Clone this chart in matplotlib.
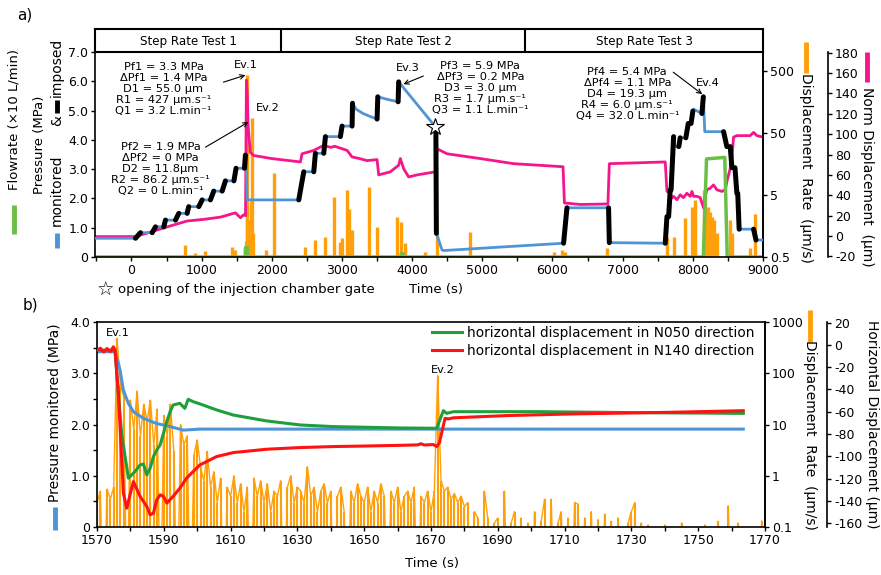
import numpy as np
import matplotlib.pyplot as plt
from matplotlib.lines import Line2D
from matplotlib.ticker import FixedLocator, FuncFormatter, MultipleLocator, NullLocator

plt.rcParams['font.family'] = 'DejaVu Sans'
plt.rcParams['axes.unicode_minus'] = False

W, H = 881, 575

BLUE = '#4f95d5'
PINK = '#f5158c'
ORANGE = '#ffa00a'
LIME = '#6abf45'
GREEN = '#1f9e3c'
RED = '#ff1212'

# ---------------- a) step rate tests ----------------
test_names = ['Step Rate Test 1', 'Step Rate Test 2', 'Step Rate Test 3']
test_bounds = [-520, 2137, 5613, 9000]

# monitored pressure (MPa)
p_time = [-520, 57, 128, 295, 342, 460, 484, 627, 674, 793, 816, 959, 1007, 1125, 1172,
          1292, 1339, 1460, 1490, 1610, 1624, 1632, 1648,
          2384, 2455, 2598, 2621, 2740, 2764, 2977, 3001, 3144, 3150, 3200, 3300, 3400,
          3500, 3510, 3650, 3800, 3808, 4330, 4345, 4426, 4450, 6158, 6206, 6799, 6810,
          7607, 7631, 7655, 7678, 7690, 7726, 7746, 7800, 7820, 7900, 7935, 7975, 8000,
          8010, 8129, 8150, 8170, 8438, 8485, 8533, 8557, 8600, 8628, 8640, 8660, 8866,
          8900, 9000]
p_monitored = [0.64, 0.64, 0.83, 0.83, 1.03, 1.03, 1.26, 1.26, 1.49, 1.49, 1.72, 1.72, 1.95, 1.95, 2.25,
               2.25, 2.60, 2.60, 3.03, 3.03, 3.48, 3.48, 1.95,
               1.95, 2.91, 2.91, 3.54, 3.54, 4.11, 4.11, 4.47, 4.47, 5.25, 5.05, 4.90, 4.80,
               4.71, 5.47, 5.38, 5.30, 5.98, 4.45, 0.81, 0.24, 0.22, 0.47, 1.68, 1.68, 0.49,
               0.47, 1.38, 1.38, 2.29, 2.29, 4.11, 3.77, 3.77, 4.07, 4.07, 4.56, 4.56, 4.98,
               5.05, 4.90, 5.47, 4.28, 4.28, 3.77, 3.77, 3.05, 3.05, 2.17, 2.17, 0.95, 0.95,
               0.58, 0.58]

# imposed pressure ramps: (t start, p start, t end, p end)
ramps = [(57, 0.64, 128, 0.83), (295, 0.83, 342, 1.03), (460, 1.03, 484, 1.26),
         (627, 1.26, 674, 1.49), (793, 1.49, 816, 1.72), (959, 1.72, 1007, 1.95),
         (1125, 1.95, 1172, 2.25), (1292, 2.25, 1339, 2.60), (1460, 2.60, 1490, 3.03),
         (1610, 3.03, 1624, 3.48),
         (2384, 1.95, 2455, 2.91), (2598, 2.91, 2621, 3.54), (2740, 3.54, 2764, 4.11),
         (2977, 4.11, 3001, 4.47), (3144, 4.47, 3150, 5.25), (3500, 4.71, 3510, 5.47),
         (3800, 5.30, 3808, 5.98), (4338, 4.45, 4345, 0.81),
         (6158, 0.47, 6206, 1.68), (6799, 1.68, 6810, 0.49),
         (7607, 0.47, 7631, 1.38), (7655, 1.38, 7678, 2.29), (7690, 2.29, 7726, 4.11),
         (7800, 3.77, 7820, 4.07), (7900, 4.07, 7935, 4.56), (7975, 4.56, 8000, 4.98),
         (8129, 4.90, 8150, 5.47), (8438, 4.28, 8485, 3.77), (8533, 3.77, 8557, 3.05),
         (8600, 3.05, 8628, 2.17), (8640, 2.17, 8660, 0.95), (8866, 0.95, 8900, 0.58)]

# flowrate (x10 L/min)
flow_time = [-520, 1620, 1625, 1650, 1655, 3840, 3845, 3870, 3875, 8150, 8195, 8455, 8490, 9000]
flow = [0, 0, 0.32, 0.32, 0, 0, 0.11, 0.11, 0, 0, 3.35, 3.40, 0, 0]

# normal displacement (um)
norm_time = [-520, 57, 318, 556, 793, 1030, 1268, 1481, 1553, 1600, 1625, 1638, 1650, 1660,
             1671, 1695, 1742, 2000, 2407, 2431, 2598, 2740, 2835, 2900, 3073, 3144, 3250,
             3357, 3500, 3523, 3689, 3808, 3832, 3879, 3950, 4069, 4330, 4355, 4402, 4497,
             4972, 5447, 6150, 6170, 6396, 6790, 6810, 7607, 7631, 7655, 7678, 7726, 7773,
             7821, 7867, 7915, 7963, 7987, 8010, 8058, 8105, 8153, 8177, 8200, 8248, 8295,
             8343, 8414, 8462, 8485, 8533, 8557, 8580, 8628, 8818, 8866, 8913, 9000]
norm_disp = [-0.5, -0.5, 5, 10, 14.8, 16.4, 18.6, 22.8, 18, 21, 20, 153, 140, 110,
             100, 82, 79, 76, 72.7, 80.7, 84, 89, 87, 88, 84, 77.6, 76,
             74, 75, 60, 63, 69.5, 76, 66, 58, 60, 63, 85.6, 84, 80.7,
             76, 71, 68, 32.5, 31, 31.5, 71, 72.7, 43.8, 45, 35.7, 39, 35.7,
             40.5, 37.7, 42, 39, 43.8, 39, 39, 37.7, 27.6, 39, 45.4, 47, 50.2,
             45.4, 43.8, 45.4, 53.4, 66.3, 76, 97, 98.5, 98.5, 101.7, 98.5, 97]

# displacement rate peaks (um/s)
rate_time = [759, 912, 1054, 1434, 1481, 1625, 1640, 1652, 1665, 1690, 1705, 1720, 1735,
             1919, 2027, 2479, 2621, 2764, 2882, 2977, 3001, 3073, 3095, 3144, 3380, 3500,
             3785, 3842, 3903, 4188, 4355, 4829, 6016, 6135, 6182, 6776, 7631, 7726, 7892,
             7987, 8034, 8153, 8180, 8210, 8248, 8275, 8295, 8343, 8533, 8560, 8818, 8889]
rate = [0.78, 0.57, 0.63, 0.72, 0.66, 0.9, 427, 3.0, 1.5, 2.0, 4.0, 86.2, 1.2,
        0.65, 11.2, 0.73, 0.94, 1.06, 4.7, 0.88, 1.0, 6.0, 3.0, 1.36, 6.8, 1.54,
        2.23, 1.85, 0.85, 0.6, 1.2, 1.28, 0.6, 0.65, 0.6, 0.7, 1.06, 1.06, 2.1,
        3.2, 4.15, 6.0, 5.0, 3.2, 2.7, 2.2, 2.0, 1.2, 2.0, 1.2, 0.7, 2.5]

gate_time, gate_p = 4330, 4.45

blocks = [
    (456, 5.73, 'Pf1 = 3.3 MPa\nΔPf1 = 1.4 MPa\nD1 = 55.0 µm\nR1 = 427 µm.s⁻¹\nQ1 = 3.2 L.min⁻¹'),
    (413, 3.00, 'Pf2 = 1.9 MPa\nΔPf2 = 0 MPa\nD2 = 11.8µm\nR2 = 86.2 µm.s⁻¹\nQ2 = 0 L.min⁻¹'),
    (4972, 5.77, 'Pf3 = 5.9 MPa\nΔPf3 = 0.2 MPa\nD3 = 3.0 µm\nR3 = 1.7 µm.s⁻¹\nQ3 = 1.1 L.min⁻¹'),
    (7066, 5.56, 'Pf4 = 5.4 MPa\nΔPf4 = 1.1 MPa\nD4 = 19.3 µm\nR4 = 6.0 µm.s⁻¹\nQ4 = 32.0 L.min⁻¹'),
]
# (label, label x, label y, arrow tail, arrow head)
events_a = [
    ('Ev.1', 1624, 6.55, (1311, 5.97), (1624, 6.21)),
    ('Ev.2', 1937, 5.09, (1054, 3.75), (1667, 4.61)),
    ('Ev.3', 3932, 6.45, (4160, 6.18), (3875, 5.90)),
    ('Ev.4', 8219, 5.94, (7721, 6.31), (8134, 5.56)),
]

# ---------------- b) zoom on Ev.1 / Ev.2 ----------------
pb_time = [1570, 1575.4, 1576.4, 1576.9, 1577.9, 1579.4, 1580.9, 1583.9, 1587.8, 1591.9,
           1595.8, 1600.8, 1763.5]
pb = [3.42, 3.42, 3.20, 3.06, 2.67, 2.41, 2.25, 2.12, 2.02, 1.96, 1.89, 1.91, 1.91]

n050_time = [1570, 1575.4, 1576.4, 1577.4, 1578.4, 1579.4, 1580.4, 1581.4, 1582.9, 1583.9,
             1584.9, 1585.9, 1586.9, 1587.9, 1588.9, 1589.9, 1590.9, 1591.9, 1592.8, 1594.8,
             1596.3, 1597.3, 1598.8, 1600.8, 1605.8, 1610.8, 1620.8, 1630.8, 1640.8, 1650.7,
             1660.7, 1671.7, 1673.7, 1674.7, 1676.7, 1702.6, 1732.6, 1763.5]
n050 = [-4.8, -5, -45, -80, -100, -119.7, -116.7, -113.7, -107.8, -107,
        -116.7, -110.8, -100.3, -94.3, -89.9, -79.4, -68.9, -60, -54, -52.5,
        -57, -48.9, -51, -53, -58.4, -63, -68.3, -71.9, -73.4, -74,
        -74.6, -74.9, -59.1, -61.5, -60, -60, -60.9, -61.5]

n140_time = [1570, 1571, 1572, 1573, 1574, 1574.9, 1575.4, 1576.4, 1577.4, 1577.9, 1578.9,
             1580.9, 1582.9, 1584.9, 1585.9, 1586.9, 1587.9, 1588.9, 1589.9, 1590.9, 1592.8,
             1594.8, 1596.8, 1598.8, 1600.8, 1605.8, 1610.8, 1620.8, 1630.8, 1640.8, 1650.7,
             1660.7, 1666, 1667, 1668, 1670.7, 1671.7, 1672.5, 1674.2, 1675.2, 1676.7, 1692.7,
             1712.6, 1742.5, 1763.5]
n140 = [-4.8, -3, -6.3, -3.3, -6, -1.8, -4.8, -43.6, -103.3, -133, -146.6,
        -122.7, -136, -145, -152.6, -151, -139, -134.6, -136, -142, -136,
        -128.7, -119.7, -113.7, -107.8, -100.3, -96.7, -93.7, -92.2, -91.3, -90.8,
        -90.2, -89.8, -88.8, -89.9, -89.5, -91.3, -88, -66, -66.5, -65.5, -63.5,
        -62, -60.5, -59.1]

# displacement rate sampled every second from 1570 s (um/s)
rate_b_start = 1570
rate_b = [0.3, 0.5, 0, 0.55, 0.35, 0.6, 480, 60, 35, 0,
          30, 8, 45, 6, 25, 12, 30, 4, 20, 0,
          15, 6, 25, 3, 0, 10, 4, 6, 0, 2.5,
          5, 1.5, 0.8, 3, 0.6, 1.2, 0.3, 0.9, 0, 0.6,
          0.4, 1.0, 0.3, 0.7, 0.2, 0.6, 0, 0.9, 0.4, 0.8,
          0.3, 0.7, 0.2, 0.5, 0.4, 0.8, 0, 0.6, 1.0, 0.3,
          0.6, 0.5, 0.3, 1.5, 0.4, 0.6, 0.2, 0.5, 0.7, 0.3,
          0.5, 0, 0.4, 0.6, 0.2, 0, 0.5, 0.3, 0.7, 0.4,
          0.3, 0.6, 0.2, 0.5, 0.3, 0.7, 0.4, 0, 0.5, 0.3,
          0.6, 0.2, 0.4, 0.5, 0.3, 0.6, 0, 0.4, 0.3, 0.5,
          0.2, 0.5, 90, 0.8, 0.5, 0.6, 0.35, 0.45, 0.3, 0.4,
          0.25, 0.3, 0, 0.2, 0.15, 0, 0.5, 0.15, 0, 0.12,
          0.15, 0, 0.5, 0, 0.12, 0.2, 0, 0.15, 0, 0.12,
          0, 0.2, 0, 0.13, 0.35, 0, 0.35, 0, 0.12, 0.2,
          0, 0.15, 0, 0.3, 0.28, 0, 0.15, 0, 0.2, 0,
          0.14, 0, 0.18, 0, 0.13, 0, 0.15, 0, 0, 0.12,
          0.2, 0.3, 0, 0.12, 0, 0.11, 0, 0, 0, 0,
          0.11, 0, 0, 0, 0, 0.12, 0, 0, 0, 0,
          0, 0, 0.11, 0, 0, 0, 0.13, 0, 0, 0.26,
          0, 0, 0.12, 0, 0, 0, 0, 0, 0, 0.13]

events_b = [('Ev.1', 1576.3, 3.79), ('Ev.2', 1673.6, 3.06)]


def fx(px):
    return px / W


def fy(py):
    return 1 - py / H


def ftext(px, py, s, **kw):
    fig.text(fx(px), fy(py), s, ha='center', va='center', **kw)


def fdash(px, py0, py1, color, lw=3.5):
    fig.add_artist(Line2D([fx(px), fx(px)], [fy(py0), fy(py1)], color=color, lw=lw,
                          solid_capstyle='butt', transform=fig.transFigure))


fig = plt.figure(figsize=(W / 100, H / 100), dpi=100)

# ---- panel a ----
ax = fig.add_axes([fx(95), fy(257), 668 / W, 205 / H])
ax_rate = ax.twinx()
ax_norm = ax.twinx()
ax_rate.set_zorder(1)
ax_norm.set_zorder(2)
ax.set_zorder(3)
ax.patch.set_visible(False)

ax_rate.set_yscale('log')
ax_rate.vlines(rate_time, 0.5, rate, color=ORANGE, lw=2.4)
ax_rate.set_ylim(0.5, 0.5 * 10 ** (205 / 62))
ax_rate.yaxis.set_major_locator(FixedLocator([0.5, 5, 50, 500]))
ax_rate.yaxis.set_minor_locator(NullLocator())
ax_rate.yaxis.set_major_formatter(FuncFormatter(lambda v, _: f'{v:g}'))

ax_norm.plot(norm_time, norm_disp, color=PINK, lw=2)
ax_norm.set_ylim(-20.5, 180.5)
ax_norm.yaxis.set_major_locator(MultipleLocator(20))
ax_norm.spines['right'].set_position(('outward', 65 * 0.72))
for s in ['top', 'bottom', 'left']:
    ax_norm.spines[s].set_visible(False)
    ax_rate.spines[s].set_visible(False)

ax.plot(flow_time, flow, color=LIME, lw=2.5, zorder=2)
ax.plot(p_time, p_monitored, color=BLUE, lw=2, solid_capstyle='round', zorder=3)
for t0, v0, t1, v1 in ramps:
    ax.plot([t0, t1], [v0, v1], color='black', lw=3.6, solid_capstyle='round', zorder=4)
ax.plot(gate_time, gate_p, marker='*', ms=13, mfc='white', mec='black', mew=0.8, zorder=6)

ax.set_xlim(-520, 9000)
ax.set_ylim(0, 7)
ax.xaxis.set_major_locator(FixedLocator(range(0, 9001, 1000)))
ax.xaxis.set_minor_locator(MultipleLocator(500))
ax.yaxis.set_major_locator(MultipleLocator(1))
ax.yaxis.set_major_formatter(FuncFormatter(lambda v, _: '0' if v == 0 else f'{v:.1f}'))

for a in (ax, ax_rate, ax_norm):
    a.tick_params(direction='out', length=3, width=1, labelsize=9, pad=2)
    for s in a.spines.values():
        s.set_linewidth(1.2)
ax.tick_params(which='minor', direction='out', length=3, width=1)

for x, y, s in blocks:
    ax.text(x, y, s, ha='center', va='center', fontsize=8.2, linespacing=1.12, zorder=7)
for name, lx, ly, tail, head in events_a:
    ax.text(lx, ly, name, ha='center', va='center', fontsize=8.2, zorder=7)
    ax.annotate('', xy=head, xytext=tail,
                arrowprops=dict(arrowstyle='->', lw=0.8, color='black',
                                shrinkA=0, shrinkB=0, mutation_scale=8))

# header boxes
axh = fig.add_axes([fx(95), fy(52), 668 / W, 23 / H])
axh.set_xlim(-520, 9000)
axh.set_ylim(0, 1)
axh.set_xticks([])
axh.set_yticks([])
for s in axh.spines.values():
    s.set_linewidth(1.5)
for b in test_bounds[1:-1]:
    axh.axvline(b, color='black', lw=1.5)
for i, name in enumerate(test_names):
    axh.text((test_bounds[i] + test_bounds[i + 1]) / 2, 0.45, name, ha='center',
             va='center', fontsize=8.6)

# ---- panel b ----
bx = fig.add_axes([fx(97), fy(527), 668 / W, 205 / H])
bx_rate = bx.twinx()
bx_h = bx.twinx()
bx_rate.set_zorder(1)
bx.set_zorder(2)
bx_h.set_zorder(3)
bx.patch.set_visible(False)
bx_h.patch.set_visible(False)

rb_t = rate_b_start + np.arange(len(rate_b))
rb = np.array(rate_b, dtype=float)
bx_rate.set_yscale('log')
pos = rb > 0
bx_rate.vlines(rb_t[pos], 0.1, rb[pos], color=ORANGE, lw=1.5)
bx_rate.plot(rb_t, np.where(pos, rb, 1e-3), color=ORANGE, lw=1.0)
bx_rate.set_ylim(0.1, 1000)
bx_rate.yaxis.set_major_locator(FixedLocator([0.1, 1, 10, 100, 1000]))
bx_rate.yaxis.set_minor_locator(NullLocator())
bx_rate.yaxis.set_major_formatter(FuncFormatter(lambda v, _: f'{v:g}'))

bx.plot(pb_time, pb, color=BLUE, lw=2.2)
bx.set_xlim(1570, 1770)
bx.set_ylim(0, 4)
bx.xaxis.set_major_locator(FixedLocator(range(1570, 1771, 20)))
bx.xaxis.set_minor_locator(FixedLocator(range(1580, 1771, 20)))
bx.yaxis.set_major_locator(MultipleLocator(1))
bx.yaxis.set_minor_locator(MultipleLocator(0.5))
bx.yaxis.set_major_formatter(FuncFormatter(lambda v, _: '0' if v == 0 else f'{v:.1f}'))

l1, = bx_h.plot(n050_time, n050, color=GREEN, lw=2.2)
l2, = bx_h.plot(n140_time, n140, color=RED, lw=2.2)
bx_h.set_ylim(-163.5, 20.5)
bx_h.yaxis.set_major_locator(MultipleLocator(20))
bx_h.spines['right'].set_position(('outward', 62 * 0.72))
for s in ['top', 'bottom', 'left']:
    bx_h.spines[s].set_visible(False)
    bx_rate.spines[s].set_visible(False)

for a in (bx, bx_rate, bx_h):
    a.tick_params(direction='out', length=3, width=1, labelsize=9, pad=2)
    for s in a.spines.values():
        s.set_linewidth(1.2)
bx.tick_params(which='minor', direction='out', length=3, width=1)

for name, lx, ly in events_b:
    bx.text(lx, ly, name, ha='center', va='center', fontsize=8.2, zorder=7)

bx_h.legend([l1, l2], ['horizontal displacement in N050 direction',
                       'horizontal displacement in N140 direction'],
            loc='upper right', bbox_to_anchor=(0.99, 1.0), frameon=False,
            fontsize=9.8, handlelength=2.2, handletextpad=0.35, labelspacing=0.3,
            borderaxespad=0.2, borderpad=0.1)

# ---- labels ----
ftext(25, 15, 'a)', fontsize=11)
ftext(30, 305, 'b)', fontsize=11)

ftext(14, 119, 'Flowrate (×10 L/min)', rotation=90, fontsize=9.5)
fdash(14, 205, 234, LIME)
ftext(40, 145, 'Pressure (MPa)', rotation=90, fontsize=9.5)
ftext(57, 190, 'monitored', rotation=90, fontsize=10)
ftext(57, 121, '&', rotation=90, fontsize=10)
fdash(57, 100, 113, 'black')
ftext(57, 67, 'imposed', rotation=90, fontsize=10)
fdash(57, 233, 248, BLUE)

ftext(806, 168, 'Displacement  Rate  (µm/s)', rotation=270, fontsize=10)
fdash(806, 42, 73, ORANGE)
ftext(867, 177, 'Norm Displacement  (µm)', rotation=270, fontsize=10)
fdash(867, 52, 82, PINK)

ftext(105, 290, '☆', fontsize=14)
fig.text(fx(118), fy(290), 'opening of the injection chamber gate', ha='left',
         va='center', fontsize=9.5)
ftext(436, 290, 'Time (s)', fontsize=9.5)

ftext(55, 413, 'Pressure monitored (MPa)', rotation=90, fontsize=10)
fdash(55, 507, 530, BLUE)
ftext(810, 435, 'Displacement  Rate  (µm/s)', rotation=270, fontsize=10)
fdash(810, 310, 342, ORANGE)
ftext(872, 424, 'Horizontal Displacement (µm)', rotation=270, fontsize=10)
ftext(432, 563, 'Time (s)', fontsize=9.5)

fig.savefig('out.png', dpi=100)
